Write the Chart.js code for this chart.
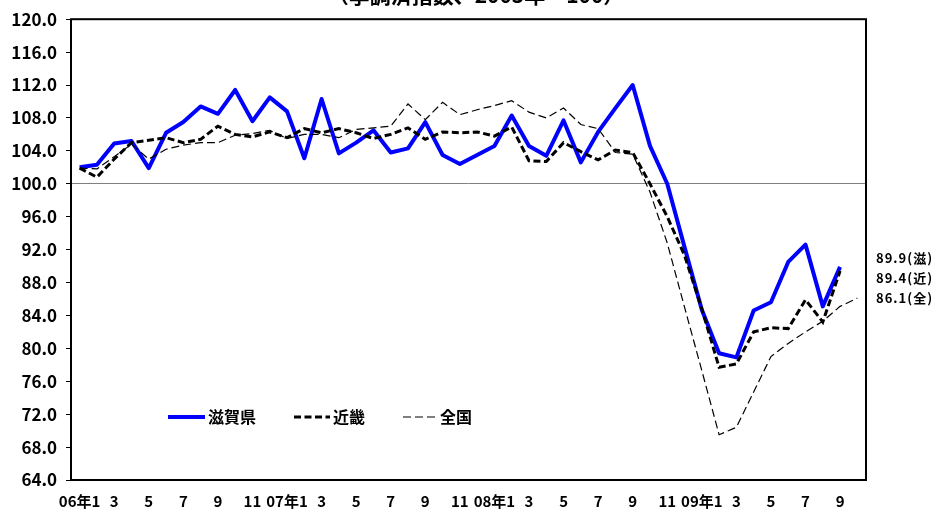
<!DOCTYPE html>
<html>
<head>
<meta charset="utf-8">
<script src="https://cdn.jsdelivr.net/npm/chart.js@4.4.0/dist/chart.umd.min.js"></script>
<style>
  html, body { margin: 0; padding: 0; background: #fff; }
  #wrap { width: 938px; height: 514px; position: relative; }
</style>
</head>
<body>
<div id="wrap"><canvas id="c" width="938" height="514"></canvas></div>
<script>
// Monthly categories, Jan 2006 – Oct 2009
const monthLabels = [
  '06年1','2','3','4','5','6','7','8','9','10','11','12',
  '07年1','2','3','4','5','6','7','8','9','10','11','12',
  '08年1','2','3','4','5','6','7','8','9','10','11','12',
  '09年1','2','3','4','5','6','7','8','9','10'
];

// Seasonally adjusted index (2005 = 100)
const shiga = [
  102.0, 102.3, 104.9, 105.2, 101.9, 106.2, 107.5, 109.4, 108.5, 111.4, 107.6, 110.5,
  108.8, 103.1, 110.3, 103.7, 105.0, 106.5, 103.8, 104.3, 107.5, 103.5, 102.4, 103.5,
  104.6, 108.3, 104.6, 103.4, 107.7, 102.6, 106.3, 109.2, 112.0, 104.6, 100.0, 92.3,
  84.7, 79.4, 78.9, 84.6, 85.6, 90.5, 92.6, 85.1, 89.9, null
];
const kinki = [
  101.9, 100.8, 103.0, 105.0, 105.3, 105.6, 105.0, 105.4, 107.0, 106.0, 105.7, 106.3,
  105.6, 106.7, 106.2, 106.7, 106.2, 105.5, 106.0, 106.8, 105.4, 106.3, 106.2, 106.3,
  105.8, 106.9, 102.8, 102.7, 105.0, 103.9, 102.9, 104.1, 103.8, 100.0, 96.0, 91.3,
  84.8, 77.7, 78.1, 82.0, 82.5, 82.4, 85.9, 83.2, 89.4, null
];
const zenkoku = [
  101.9, 101.8, 103.3, 104.8, 103.0, 104.2, 104.7, 105.0, 105.0, 105.9, 106.1, 106.5,
  105.5, 106.0, 106.0, 105.6, 106.6, 106.8, 107.0, 109.7, 107.8, 109.9, 108.4, 109.0,
  109.5, 110.1, 108.7, 108.0, 109.2, 107.2, 106.7, 103.8, 103.6, 99.0, 92.8, 85.0,
  77.3, 69.5, 70.4, 74.7, 79.0, 80.6, 82.0, 83.3, 85.1, 86.1
];

const seriesNames = ['滋賀県', '近畿', '全国'];
const shortNames = ['滋', '近', '全'];
const yMin = 64, yMax = 120, yStep = 4, baseLine = 100;
const titleText = '（季調済指数、2005年＝100）';

const JP = '"Noto Sans CJK JP", "Noto Sans", sans-serif';

function lastValue(arr) {
  for (let i = arr.length - 1; i >= 0; i--) if (arr[i] != null) return arr[i];
  return null;
}

// Frame, in-plot legend, clipped heading and latest-value labels
const decorations = {
  id: 'decorations',
  afterDatasetsDraw(chart) {
    const ctx = chart.ctx;
    const a = chart.chartArea;
    const ds = chart.data.datasets;
    ctx.save();

    // plot frame
    ctx.strokeStyle = '#000';
    ctx.lineWidth = 2;
    ctx.setLineDash([]);
    ctx.strokeRect(a.left, a.top, a.right - a.left, a.bottom - a.top);

    // heading (only its lower edge falls inside the canvas)
    ctx.fillStyle = '#000';
    ctx.font = 'bold 21px ' + JP;
    ctx.textAlign = 'center';
    ctx.textBaseline = 'alphabetic';
    ctx.fillText(titleText, 476, 3);

    // legend inside the plot
    const legendY = 417;
    const items = [
      { x1: 168, x2: 205, tx: 208 },
      { x1: 294, x2: 330, tx: 333 },
      { x1: 403, x2: 437, tx: 440 }
    ];
    ctx.font = 'bold 16px ' + JP;
    ctx.textAlign = 'left';
    ctx.textBaseline = 'middle';
    items.forEach((it, i) => {
      const d = ds[i];
      ctx.strokeStyle = d.borderColor;
      ctx.lineWidth = d.borderWidth;
      ctx.setLineDash(d.borderDash || []);
      ctx.beginPath();
      ctx.moveTo(it.x1, legendY);
      ctx.lineTo(it.x2, legendY);
      ctx.stroke();
      ctx.setLineDash([]);
      ctx.fillStyle = '#000';
      ctx.fillText(seriesNames[i], it.tx, legendY);
    });

    // latest values beside the plot
    const yScale = chart.scales.y;
    const lasts = ds.map(d => lastValue(d.data));
    const yBottom = yScale.getPixelForValue(lasts[2]);
    ctx.font = 'bold 13px ' + JP;
    ctx.fillStyle = '#000';
    ctx.textAlign = 'left';
    ctx.textBaseline = 'middle';
    if ('letterSpacing' in ctx) ctx.letterSpacing = '1px';
    for (let i = 0; i < 3; i++) {
      const y = yBottom - (2 - i) * 20;
      ctx.fillText(lasts[i].toFixed(1) + '(' + shortNames[i] + ')', a.right + 10, y);
    }
    ctx.restore();
  }
};

new Chart(document.getElementById('c'), {
  type: 'line',
  data: {
    labels: monthLabels,
    datasets: [
      {
        label: seriesNames[0], data: shiga,
        borderColor: '#0000FF', borderWidth: 4, borderJoinStyle: 'round',
        pointRadius: 0, tension: 0, order: 2, spanGaps: false
      },
      {
        label: seriesNames[1], data: kinki,
        borderColor: '#000000', borderWidth: 3, borderDash: [7, 3.5],
        pointRadius: 0, tension: 0, order: 1, spanGaps: false
      },
      {
        label: seriesNames[2], data: zenkoku,
        borderColor: '#000000', borderWidth: 1.2, borderDash: [8, 4],
        pointRadius: 0, tension: 0, order: 0, spanGaps: false
      }
    ]
  },
  options: {
    responsive: false,
    animation: false,
    devicePixelRatio: 1,
    layout: { padding: { top: 18, right: 72, left: 0, bottom: 0 } },
    plugins: {
      legend: { display: false },
      tooltip: { enabled: false },
      title: { display: false }
    },
    scales: {
      x: {
        type: 'category',
        offset: true,
        grid: { display: false, drawTicks: false },
        border: { display: false },
        ticks: {
          autoSkip: false, maxRotation: 0, minRotation: 0,
          padding: 12,
          color: '#000',
          font: { family: JP, size: 15, weight: 'bold' },
          callback: function (v, i) { return i % 2 === 0 ? monthLabels[i] : ''; }
        },
        afterFit: s => { s.height = 34; }
      },
      y: {
        min: yMin, max: yMax,
        grid: {
          drawOnChartArea: true,
          drawTicks: true,
          tickLength: 5,
          tickColor: '#000',
          lineWidth: 1,
          color: c => (c.tick && c.tick.value === baseLine) ? '#808080' : 'rgba(0,0,0,0)'
        },
        border: { display: false },
        ticks: {
          stepSize: yStep,
          padding: 9,
          color: '#000',
          font: { family: JP, size: 17, weight: 'bold' },
          callback: v => Number(v).toFixed(1)
        },
        afterFit: s => { s.width = 71; }
      }
    }
  },
  plugins: [decorations]
});
</script>
</body>
</html>
